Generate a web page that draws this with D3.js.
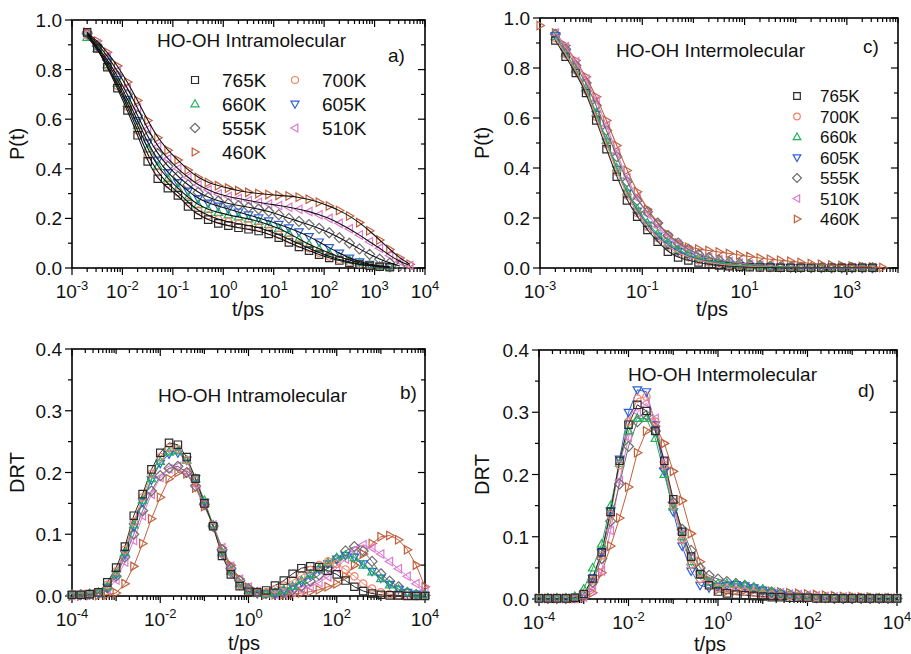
<!DOCTYPE html>
<html><head><meta charset="utf-8">
<script src="https://cdn.jsdelivr.net/npm/d3@7"></script>
<style>body{margin:0;background:#fff}</style>
</head><body><svg id="chart" width="911" height="654"></svg>
<script>
// ---------- DATA ----------
const seriesNames = ["765K","700K","660K","605K","555K","510K","460K"];
const seriesNamesC = ["765K","700K","660k","605K","555K","510K","460K"];
const seriesColors = ["#2a2a2a","#f2856a","#22b15c","#2f5fd6","#6e6e6e","#e07ad2","#c2603c"];
const seriesShapes = ["square","circle","up","down","diamond","left","right"];

// time grid (ps) for panels a) and c)
const tGridP = [0.002,0.00317,0.00502,0.00796,0.0126,0.02,0.0317,0.0502,0.0796,0.126,0.2,0.317,0.502,0.796,1.26,2,3.17,5.02,7.96,12.6,20,31.7,50.2,79.6,126,200,317,502,796,1262,2000,3170,5020];
// time grid (ps) for panels b) and d)
const tGridD = [1e-4,1.58e-4,2.51e-4,3.98e-4,6.31e-4,1e-3,1.58e-3,2.51e-3,3.98e-3,6.31e-3,0.01,0.0158,0.0251,0.0398,0.0631,0.1,0.158,0.251,0.398,0.631,1,1.58,2.51,3.98,6.31,10,15.8,25.1,39.8,63.1,100,158,251,398,631,1000,1580,2510,3980,6310,10000];

// a) P(t) intramolecular
const intraP_765 = [0.95,0.885,0.81,0.725,0.635,0.535,0.43,0.36,0.322,0.293,0.248,0.214,0.195,0.18,0.171,0.162,0.156,0.149,0.137,0.122,0.103,0.085,0.07,0.054,0.041,0.03,0.021,0.014,0.009,0.005,0.003];
const intraP_700 = [0.94,0.885,0.815,0.735,0.65,0.555,0.455,0.385,0.34,0.305,0.265,0.232,0.212,0.196,0.186,0.178,0.172,0.163,0.15,0.134,0.116,0.098,0.08,0.062,0.047,0.034,0.024,0.016,0.01,0.006,0.003];
const intraP_660 = [0.93,0.885,0.82,0.745,0.665,0.575,0.48,0.41,0.36,0.322,0.285,0.255,0.236,0.224,0.214,0.206,0.198,0.188,0.175,0.16,0.14,0.117,0.095,0.077,0.06,0.045,0.032,0.021,0.013,0.007,0.004];
const intraP_605 = [0.94,0.89,0.83,0.76,0.68,0.595,0.505,0.435,0.385,0.345,0.31,0.28,0.262,0.25,0.238,0.226,0.214,0.202,0.19,0.176,0.162,0.146,0.127,0.105,0.082,0.06,0.04,0.025,0.015,0.008,0.004];
const intraP_555 = [0.945,0.895,0.84,0.775,0.7,0.615,0.53,0.46,0.41,0.37,0.335,0.305,0.285,0.27,0.26,0.252,0.245,0.238,0.228,0.215,0.2,0.188,0.175,0.16,0.142,0.122,0.1,0.077,0.055,0.036,0.02,0.008];
const intraP_510 = [0.95,0.905,0.855,0.795,0.725,0.645,0.56,0.49,0.44,0.4,0.365,0.335,0.315,0.298,0.288,0.28,0.272,0.265,0.258,0.252,0.245,0.237,0.228,0.215,0.2,0.18,0.158,0.133,0.106,0.08,0.05,0.026,0.01];
const intraP_460 = [0.95,0.915,0.87,0.815,0.75,0.675,0.595,0.525,0.475,0.435,0.395,0.365,0.345,0.332,0.322,0.312,0.305,0.3,0.296,0.293,0.29,0.285,0.277,0.265,0.25,0.232,0.21,0.183,0.15,0.113,0.075,0.04,0.015];

// c) P(t) intermolecular
const interP_765 = [0.91,0.845,0.78,0.7,0.59,0.475,0.365,0.27,0.205,0.152,0.105,0.065,0.042,0.03,0.022,0.015,0.01,0.007,0.005,0.003,0.002,0.002,0.001,0.001,0.001,0.001,0.001,0.001,0.001,0.001,0.001,0.001];
const interP_700 = [0.92,0.855,0.79,0.71,0.605,0.495,0.385,0.29,0.22,0.165,0.12,0.085,0.06,0.043,0.031,0.022,0.016,0.011,0.008,0.006,0.004,0.003,0.002,0.002,0.001,0.001,0.001,0.001,0.001,0.001,0.001,0.001];
const interP_660 = [0.925,0.86,0.795,0.72,0.62,0.51,0.4,0.305,0.235,0.18,0.135,0.1,0.073,0.053,0.04,0.03,0.022,0.016,0.012,0.009,0.007,0.005,0.004,0.003,0.002,0.002,0.001,0.001,0.001,0.001,0.001,0.001];
const interP_605 = [0.93,0.86,0.79,0.71,0.615,0.505,0.395,0.3,0.228,0.172,0.128,0.093,0.067,0.048,0.035,0.026,0.019,0.014,0.01,0.007,0.005,0.004,0.003,0.002,0.002,0.001,0.001,0.001,0.001,0.001,0.001,0.001];
const interP_555 = [0.935,0.875,0.81,0.74,0.65,0.55,0.445,0.345,0.27,0.225,0.18,0.13,0.1,0.075,0.055,0.041,0.031,0.024,0.018,0.013,0.01,0.007,0.005,0.004,0.003,0.002,0.002,0.001,0.001,0.001,0.001,0.001];
const interP_510 = [0.94,0.885,0.825,0.755,0.67,0.57,0.46,0.36,0.28,0.215,0.165,0.125,0.095,0.072,0.055,0.042,0.033,0.026,0.02,0.015,0.011,0.008,0.006,0.004,0.003,0.002,0.002,0.001,0.001,0.001,0.001,0.001];
const interP_460 = [0.94,0.89,0.83,0.765,0.685,0.59,0.49,0.39,0.305,0.235,0.18,0.135,0.1,0.083,0.076,0.07,0.064,0.058,0.052,0.046,0.04,0.035,0.031,0.027,0.022,0.018,0.015,0.012,0.01,0.008,0.006,0.004,0.002];
const interP_460_first = {t: 0.001, p: 0.97};

// b) DRT intramolecular
const intraD_765 = [0.002,0.002,0.003,0.006,0.022,0.046,0.08,0.13,0.165,0.205,0.232,0.248,0.245,0.225,0.19,0.15,0.113,0.065,0.035,0.016,0.007,0.006,0.009,0.017,0.025,0.036,0.045,0.048,0.047,0.041,0.035,0.025,0.015,0.008,0.004,0.002,0.001,0.001,0,0,0];
const intraD_700 = [0.002,0.002,0.003,0.006,0.018,0.04,0.075,0.12,0.16,0.198,0.225,0.24,0.238,0.22,0.187,0.15,0.112,0.068,0.038,0.018,0.008,0.005,0.006,0.011,0.017,0.025,0.033,0.042,0.05,0.056,0.052,0.043,0.032,0.02,0.012,0.006,0.003,0.001,0.001,0,0];
const intraD_660 = [0.002,0.002,0.003,0.005,0.015,0.036,0.07,0.115,0.155,0.19,0.218,0.233,0.235,0.22,0.19,0.155,0.115,0.07,0.04,0.02,0.009,0.005,0.004,0.006,0.01,0.016,0.025,0.035,0.045,0.054,0.062,0.066,0.062,0.05,0.039,0.028,0.018,0.011,0.006,0.003,0.001];
const intraD_605 = [0.002,0.002,0.003,0.005,0.014,0.035,0.068,0.112,0.152,0.188,0.215,0.23,0.232,0.22,0.19,0.152,0.112,0.068,0.038,0.018,0.008,0.004,0.004,0.005,0.009,0.015,0.023,0.033,0.043,0.052,0.06,0.066,0.063,0.052,0.04,0.029,0.019,0.011,0.006,0.003,0.001];
const intraD_555 = [0.002,0.002,0.003,0.005,0.013,0.032,0.063,0.1,0.138,0.17,0.195,0.207,0.21,0.2,0.178,0.148,0.113,0.075,0.045,0.025,0.012,0.006,0.004,0.004,0.006,0.01,0.016,0.024,0.034,0.046,0.06,0.073,0.08,0.073,0.056,0.036,0.024,0.015,0.006,0.002,0.001];
const intraD_510 = [0.001,0.002,0.002,0.004,0.01,0.026,0.055,0.09,0.13,0.165,0.192,0.206,0.21,0.2,0.18,0.15,0.115,0.078,0.048,0.027,0.014,0.007,0.004,0.003,0.004,0.006,0.01,0.015,0.022,0.031,0.045,0.06,0.074,0.083,0.078,0.068,0.056,0.044,0.032,0.02,0.01];
const intraD_460 = [0,0,0.001,0.001,0.002,0.005,0.02,0.048,0.085,0.125,0.16,0.19,0.2,0.198,0.175,0.145,0.115,0.078,0.05,0.028,0.014,0.006,0.003,0.002,0.002,0.003,0.005,0.007,0.01,0.015,0.02,0.032,0.05,0.068,0.085,0.096,0.098,0.091,0.075,0.05,0.015];

// d) DRT intermolecular
const interD_765 = [0.001,0.001,0.001,0.001,0.002,0.008,0.033,0.075,0.14,0.222,0.28,0.312,0.302,0.27,0.222,0.16,0.108,0.068,0.04,0.022,0.012,0.009,0.007,0.006,0.005,0.004,0.003,0.003,0.002,0.002,0.002,0.001,0.001,0.001,0.001,0.001,0.001,0.001,0.001,0.001,0.001];
const interD_700 = [0.001,0.001,0.001,0.001,0.002,0.007,0.03,0.07,0.135,0.215,0.285,0.322,0.325,0.285,0.215,0.15,0.095,0.055,0.032,0.022,0.018,0.016,0.014,0.012,0.01,0.008,0.007,0.006,0.005,0.004,0.003,0.003,0.002,0.002,0.002,0.001,0.001,0.001,0.001,0.001,0.001];
const interD_660 = [0.001,0.001,0.001,0.001,0.004,0.016,0.05,0.088,0.15,0.218,0.27,0.29,0.29,0.258,0.2,0.148,0.1,0.06,0.038,0.028,0.025,0.025,0.024,0.022,0.019,0.016,0.012,0.009,0.007,0.005,0.004,0.003,0.002,0.002,0.001,0.001,0.001,0.001,0.001,0.001,0.001];
const interD_605 = [0.001,0.001,0.001,0.001,0.002,0.007,0.033,0.075,0.142,0.225,0.3,0.336,0.333,0.28,0.205,0.14,0.085,0.045,0.022,0.018,0.02,0.022,0.023,0.021,0.018,0.014,0.01,0.008,0.006,0.004,0.003,0.002,0.002,0.001,0.001,0.001,0.001,0.001,0.001,0.001,0.001];
const interD_555 = [0.001,0.001,0.001,0.001,0.002,0.006,0.027,0.065,0.125,0.185,0.245,0.285,0.295,0.27,0.21,0.155,0.112,0.078,0.05,0.038,0.032,0.028,0.025,0.022,0.018,0.014,0.011,0.008,0.006,0.004,0.003,0.002,0.002,0.001,0.001,0.001,0.001,0.001,0.001,0.001,0.001];
const interD_510 = [0.001,0.001,0.001,0.001,0.001,0.003,0.015,0.045,0.11,0.19,0.26,0.3,0.315,0.29,0.22,0.155,0.105,0.065,0.04,0.028,0.022,0.02,0.019,0.017,0.015,0.013,0.011,0.01,0.008,0.007,0.006,0.005,0.004,0.003,0.003,0.002,0.002,0.001,0.001,0.001,0.001];
const interD_460 = [0.001,0.001,0.001,0.001,0.001,0.002,0.01,0.042,0.085,0.13,0.18,0.235,0.27,0.278,0.25,0.205,0.158,0.105,0.06,0.03,0.015,0.012,0.013,0.014,0.014,0.013,0.012,0.011,0.01,0.009,0.008,0.007,0.006,0.005,0.004,0.004,0.003,0.003,0.002,0.002,0.001];

// tick labels
const yTicksP = [0.0,0.2,0.4,0.6,0.8,1.0];
const yTicksD = [0.0,0.1,0.2,0.3,0.4];
const xLabelExpA = [-3,-2,-1,0,1,2,3,4];
const xLabelExpC = [-3,-1,1,3];
const xLabelExpBD = [-4,-2,0,2,4];

// ---------- DRAWING ----------
const FONT = 'Arial, "Liberation Sans", Helvetica, sans-serif';
const svg = d3.select("#chart");

function shapePath(type, s) {
  switch (type) {
    case "square": return `M${-s},${-s}H${s}V${s}H${-s}Z`;
    case "circle": return `M${s},0A${s},${s} 0 1,1 ${-s},0A${s},${s} 0 1,1 ${s},0Z`;
    case "up": return `M0,${-s*1.2}L${s*1.15},${s*0.8}L${-s*1.15},${s*0.8}Z`;
    case "down": return `M0,${s*1.2}L${s*1.15},${-s*0.8}L${-s*1.15},${-s*0.8}Z`;
    case "left": return `M${-s*1.2},0L${s*0.8},${-s*1.15}L${s*0.8},${s*1.15}Z`;
    case "right": return `M${s*1.2},0L${-s*0.8},${-s*1.15}L${-s*0.8},${s*1.15}Z`;
    case "diamond": return `M0,${-s*1.35}L${s*1.35},0L0,${s*1.35}L${-s*1.35},0Z`;
  }
}

function panel(o) {
  const x = d3.scaleLog().domain(o.xd).range([o.x0, o.x1]);
  const y = d3.scaleLinear().domain(o.yd).range([o.y1, o.y0]);
  const g = svg.append("g");
  const axes = g.append("g").attr("stroke", "#000").attr("fill", "none");
  // x ticks (log)
  const e0 = Math.round(Math.log10(o.xd[0])), e1 = Math.round(Math.log10(o.xd[1]));
  for (let e = e0; e <= e1; e++) {
    for (let k = 1; k <= 9; k++) {
      const v = k * Math.pow(10, e);
      if (v > o.xd[1] * 1.0001) break;
      const major = (k === 1 && o.xLab.includes(e));
      const L = major ? 7 : (k === 1 ? 5 : 4);
      const px = x(v);
      axes.append("line").attr("x1", px).attr("x2", px).attr("y1", o.y1).attr("y2", o.y1 + L).attr("stroke-width", 1.2);
      axes.append("line").attr("x1", px).attr("x2", px).attr("y1", o.y0).attr("y2", o.y0 + L).attr("stroke-width", 1.2);
      if (major) {
        const t = g.append("text").attr("x", px).attr("y", o.y1 + 30).attr("text-anchor", "middle")
          .attr("font-family", FONT).attr("font-size", 19).attr("fill", "#111");
        t.append("tspan").text("10");
        t.append("tspan").attr("dy", -8).attr("font-size", 13).text(String(e));
      }
    }
  }
  // y ticks
  const step = o.yMinor;
  const n = Math.round((o.yd[1] - o.yd[0]) / step);
  for (let i = 0; i <= n; i++) {
    const v = o.yd[0] + i * step;
    const major = o.yTicks.some(t => Math.abs(t - v) < 1e-9);
    const L = major ? 7 : 4;
    const py = y(v);
    axes.append("line").attr("x1", o.x0 - L).attr("x2", o.x0).attr("y1", py).attr("y2", py).attr("stroke-width", 1.2);
    axes.append("line").attr("x1", o.x1 - L).attr("x2", o.x1).attr("y1", py).attr("y2", py).attr("stroke-width", 1.2);
    if (major) {
      g.append("text").attr("x", o.x0 - 10).attr("y", py + 7).attr("text-anchor", "end")
        .attr("font-family", FONT).attr("font-size", 19).attr("fill", "#111").text(d3.format(".1f")(v));
    }
  }
  // frame
  axes.append("rect").attr("x", o.x0).attr("y", o.y0).attr("width", o.x1 - o.x0).attr("height", o.y1 - o.y0).attr("stroke-width", 1.6);
  // axis titles
  g.append("text").attr("x", o.xTitleX).attr("y", o.y1 + o.xTitleDy).attr("text-anchor", "middle")
    .attr("font-family", FONT).attr("font-size", 20).attr("fill", "#111").text("t/ps");
  g.append("text").attr("transform", `translate(${o.yTitleX},${(o.y0 + o.y1) / 2}) rotate(-90)`)
    .attr("text-anchor", "middle").attr("font-family", FONT).attr("font-size", 20).attr("fill", "#111").text(o.yTitle);
  // title and letter
  g.append("text").attr("x", o.titleX).attr("y", o.titleY).attr("font-family", FONT).attr("font-size", 19).attr("fill", "#111").text(o.title);
  g.append("text").attr("x", o.letterX).attr("y", o.letterY).attr("font-family", FONT).attr("font-size", 19).attr("fill", "#111").text(o.letter);
  return {x, y, g};
}

function drawSeries(p, tGrid, values, idx, opts) {
  const pts = values.map((v, i) => [tGrid[i], v]);
  const col = seriesColors[idx];
  const line = d3.line().x(d => p.x(d[0])).y(d => p.y(d[1])).curve(opts.curve || d3.curveLinear);
  const mk = opts.markLayer.append("g");
  mk.selectAll("path").data(opts.extra ? [opts.extra].concat(pts) : pts).join("path")
    .attr("d", shapePath(seriesShapes[idx], 3.7))
    .attr("transform", d => `translate(${p.x(d[0])},${p.y(d[1])})`)
    .attr("fill", "none").attr("stroke", col).attr("stroke-width", 1.2);
  opts.lineLayer.append("path").datum(pts).attr("d", line).attr("fill", "none")
    .attr("stroke", opts.lineColor || col).attr("stroke-width", opts.lineWidth || 1);
}

// ---- panel a ----
const pa = panel({xd: [1e-3, 1e4], yd: [0, 1], x0: 72, x1: 425, y0: 20, y1: 268,
  xLab: xLabelExpA, yTicks: yTicksP, yMinor: 0.1, yTitle: "P(t)", yTitleX: 24, xTitleX: 248, xTitleDy: 48,
  title: "HO-OH Intramolecular", titleX: 157, titleY: 47, letter: "a)", letterX: 388, letterY: 62});
const intraP = [intraP_765, intraP_700, intraP_660, intraP_605, intraP_555, intraP_510, intraP_460];
{
  const markLayer = pa.g.append("g"), lineLayer = pa.g.append("g");
  for (let i = 6; i >= 0; i--) drawSeries(pa, tGridP, intraP[i], i, {markLayer, lineLayer, lineColor: "#111", lineWidth: 1.1, curve: d3.curveBasis});
  const legPos = [[195,80],[295,80],[195,104],[295,104],[195,128],[295,128],[195,152]];
  legPos.forEach((pos, i) => {
    pa.g.append("path").attr("d", shapePath(seriesShapes[i], 3.5)).attr("transform", `translate(${pos[0]},${pos[1]})`)
      .attr("fill", "none").attr("stroke", seriesColors[i]).attr("stroke-width", 1.2);
    pa.g.append("text").attr("x", pos[0] + 27).attr("y", pos[1] + 7).attr("font-family", FONT).attr("font-size", 19)
      .attr("fill", "#111").text(seriesNames[i]);
  });
}

// ---- panel c ----
const pc = panel({xd: [1e-3, 1e4], yd: [0, 1], x0: 540, x1: 898, y0: 18, y1: 268,
  xLab: xLabelExpC, yTicks: yTicksP, yMinor: 0.1, yTitle: "P(t)", yTitleX: 489, xTitleX: 712, xTitleDy: 48,
  title: "HO-OH Intermolecular", titleX: 616, titleY: 57, letter: "c)", letterX: 863, letterY: 53});
const interP = [interP_765, interP_700, interP_660, interP_605, interP_555, interP_510, interP_460];
{
  const markLayer = pc.g.append("g"), lineLayer = pc.g.append("g");
  for (let i = 6; i >= 0; i--) drawSeries(pc, tGridP, interP[i], i, {markLayer, lineLayer, lineWidth: 1.1, curve: d3.curveBasis,
    extra: i === 6 ? [interP_460_first.t, interP_460_first.p] : null});
  seriesNamesC.forEach((nm, i) => {
    const yy = 96 + i * 20.5;
    pc.g.append("path").attr("d", shapePath(seriesShapes[i], 3.3)).attr("transform", `translate(797,${yy})`)
      .attr("fill", "none").attr("stroke", seriesColors[i]).attr("stroke-width", 1.2);
    pc.g.append("text").attr("x", 820).attr("y", yy + 6).attr("font-family", FONT).attr("font-size", 17)
      .attr("fill", "#111").text(nm);
  });
}

// ---- panel b ----
const pb = panel({xd: [1e-4, 1e4], yd: [0, 0.4], x0: 72, x1: 425, y0: 349, y1: 596,
  xLab: xLabelExpBD, yTicks: yTicksD, yMinor: 0.05, yTitle: "DRT", yTitleX: 24, xTitleX: 244, xTitleDy: 54,
  title: "HO-OH Intramolecular", titleX: 158, titleY: 402, letter: "b)", letterX: 400, letterY: 399});
const intraD = [intraD_765, intraD_700, intraD_660, intraD_605, intraD_555, intraD_510, intraD_460];
{
  const lineLayer = pb.g.append("g"), markLayer = pb.g.append("g");
  for (let i = 6; i >= 0; i--) drawSeries(pb, tGridD, intraD[i], i, {markLayer, lineLayer, lineWidth: 1});
}

// ---- panel d ----
const pd = panel({xd: [1e-4, 1e4], yd: [0, 0.4], x0: 539, x1: 897, y0: 350, y1: 599,
  xLab: xLabelExpBD, yTicks: yTicksD, yMinor: 0.05, yTitle: "DRT", yTitleX: 489, xTitleX: 710, xTitleDy: 52,
  title: "HO-OH Intermolecular", titleX: 628, titleY: 381, letter: "d)", letterX: 858, letterY: 397});
const interD = [interD_765, interD_700, interD_660, interD_605, interD_555, interD_510, interD_460];
{
  const lineLayer = pd.g.append("g"), markLayer = pd.g.append("g");
  for (let i = 6; i >= 0; i--) drawSeries(pd, tGridD, interD[i], i, {markLayer, lineLayer, lineWidth: 1});
}
</script>
</body></html>
